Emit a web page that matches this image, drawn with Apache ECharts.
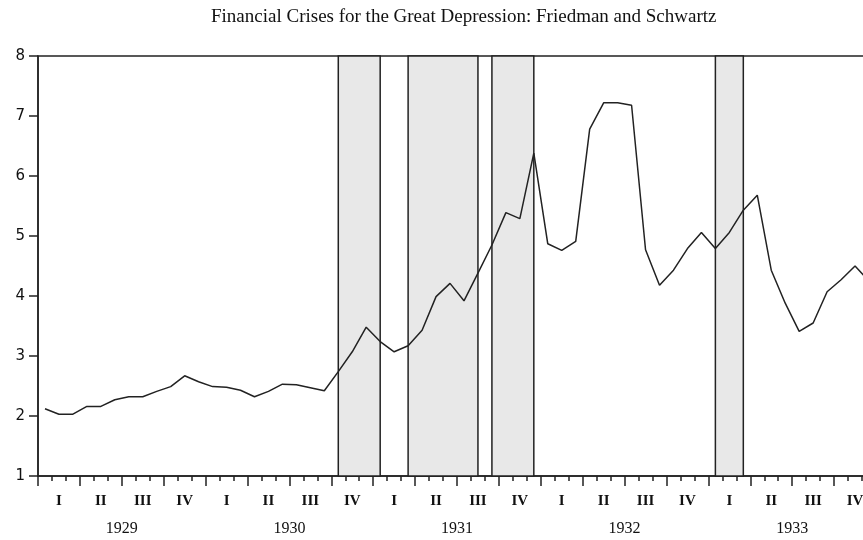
<!DOCTYPE html>
<html>
<head>
<meta charset="utf-8">
<title>Financial Crises for the Great Depression</title>
<script src="https://cdn.jsdelivr.net/npm/echarts@6/dist/echarts.min.js"></script>
<style>
  html, body { margin: 0; padding: 0; background: #fff; }
  #chart { width: 863px; height: 540px; }
</style>
</head>
<body>
<div id="chart"></div>
<script>
// years shown on the bottom axis, quarters under each year
const years = ['1929', '1930', '1931', '1932', '1933']
const quarterLabels = ['I', 'II', 'III', 'IV']

// monthly values, Jan 1929 .. Dec 1933
const values = [
  2.12, 2.03, 2.03, 2.16, 2.16, 2.27, 2.32, 2.32, 2.41, 2.49, 2.67, 2.57,
  2.49, 2.48, 2.43, 2.32, 2.41, 2.53, 2.52, 2.47, 2.42, 2.74, 3.07, 3.48,
  3.24, 3.07, 3.17, 3.43, 3.99, 4.21, 3.92, 4.38, 4.85, 5.39, 5.29, 6.38,
  4.87, 4.76, 4.91, 6.78, 7.22, 7.22, 7.18, 4.77, 4.18, 4.43, 4.79, 5.06,
  4.79, 5.06, 5.43, 5.68, 4.43, 3.88, 3.41, 3.55, 4.07, 4.27, 4.50, 4.25,
]

// banking crises (shaded bands), start / end month
const crisisStart = ['1930-10', '1931-03', '1931-09', '1933-01']
const crisisEnd = ['1931-01', '1931-08', '1931-12', '1933-03']

// category lists for the three stacked x axes
let months = []
let quarters = []
years.forEach((y) => {
  for (let m = 1; m <= 12; m++) {
    months.push(y + '-' + (m < 10 ? '0' + m : m))
  }
  quarterLabels.forEach((q) => quarters.push(q))
})

const lineColor = '#222'
const serif = 'Liberation Serif'

let myChart = echarts.init(document.getElementById('chart'))
myChart.setOption({
  animation: false,
  title: {
    text: 'Financial Crises for the Great Depression: Friedman and Schwartz',
    left: 206, // original title sits a bit right of centre
    top: 3,
    textStyle: {
      fontFamily: serif,
      fontSize: 19,
      fontWeight: 'normal',
      color: '#111',
    },
  },
  grid: {
    left: 38,
    top: 56,
    width: 838, // plot runs past the right edge, like the original
    height: 420,
    containLabel: false,
    outerBoundsMode: 'none',
    show: true,
    borderColor: lineColor,
    borderWidth: 1.5,
  },
  xAxis: [
    {
      // monthly ticks
      type: 'category',
      data: months,
      position: 'bottom',
      axisLine: { lineStyle: { color: lineColor, width: 1.5 } },
      axisTick: {
        show: true,
        interval: 0,
        length: 5,
        lineStyle: { color: lineColor, width: 1.5 },
      },
      axisLabel: { show: false },
      splitLine: { show: false },
    },
    {
      // quarter ticks + roman numerals
      type: 'category',
      data: quarters,
      position: 'bottom',
      axisLine: { show: false },
      axisTick: {
        show: true,
        interval: 0,
        length: 10,
        lineStyle: { color: lineColor, width: 1.5 },
      },
      axisLabel: {
        interval: 0,
        margin: 18,
        fontFamily: serif,
        fontSize: 15,
        fontWeight: 'bold',
        color: '#111',
      },
      splitLine: { show: false },
    },
    {
      // year labels
      type: 'category',
      data: years,
      position: 'bottom',
      axisLine: { show: false },
      axisTick: { show: false },
      axisLabel: {
        interval: 0,
        margin: 45,
        fontFamily: serif,
        fontSize: 16,
        color: '#111',
      },
      splitLine: { show: false },
    },
  ],
  yAxis: {
    type: 'value',
    min: 1,
    max: 8,
    interval: 1,
    axisLine: { show: true, lineStyle: { color: lineColor, width: 1.5 } },
    axisTick: {
      show: true,
      length: 9,
      lineStyle: { color: lineColor, width: 1.5 },
    },
    axisLabel: {
      margin: 13,
      fontFamily: 'DejaVu Sans',
      fontSize: 15,
      color: '#111',
    },
    splitLine: { show: false },
  },
  series: [
    {
      type: 'line',
      xAxisIndex: 0,
      data: values,
      symbol: 'none',
      lineStyle: { color: lineColor, width: 1.5 },
      markArea: {
        silent: true,
        itemStyle: {
          color: '#e8e8e8',
          borderColor: lineColor,
          borderWidth: 1.5,
        },
        data: crisisStart.map((s, i) => [{ xAxis: s }, { xAxis: crisisEnd[i] }]),
      },
    },
  ],
})
</script>
</body>
</html>
